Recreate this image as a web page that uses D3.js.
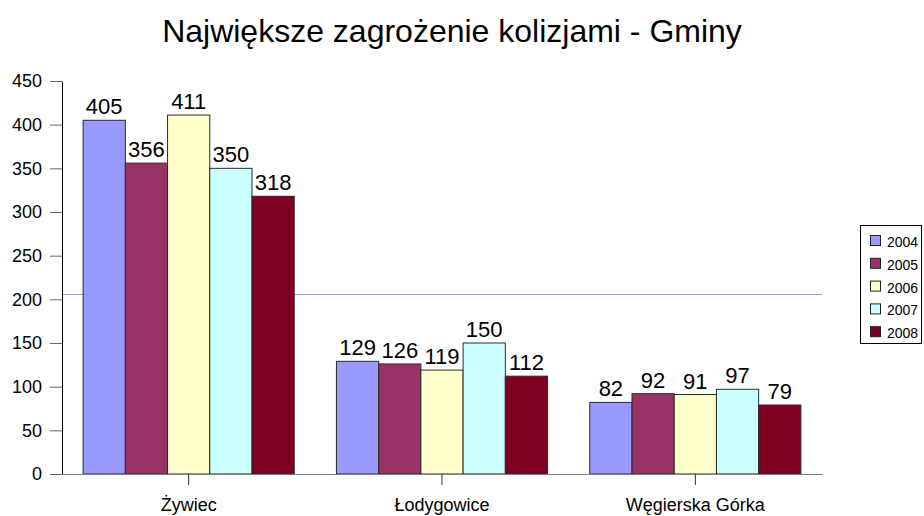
<!DOCTYPE html>
<html>
<head>
<meta charset="utf-8">
<script src="https://d3js.org/d3.v7.min.js"></script>
<style>
    body { margin: 0; background: #fff; }
    text { font-family: Arial, "Liberation Sans", sans-serif; fill: #000; }
</style>
</head>
<body>
<script>
    // chart data
    var gminy = ["Żywiec", "Łodygowice", "Węgierska Górka"];
    var lata = ["2004", "2005", "2006", "2007", "2008"];
    var v2004 = [405, 129, 82];
    var v2005 = [356, 126, 92];
    var v2006 = [411, 119, 91];
    var v2007 = [350, 150, 97];
    var v2008 = [318, 112, 79];
    var yTicks = [0, 50, 100, 150, 200, 250, 300, 350, 400, 450];
    var refLine = 206;
    var kolory = ["#9999FF", "#993366", "#FFFFCC", "#CCFFFF", "#7E0021"];

    var series = [v2004, v2005, v2006, v2007, v2008];

    var svg = d3.select("body").append("svg")
        .attr("width", 924)
        .attr("height", 516);

    var plotLeft = 62, plotRight = 822, plotTop = 81, plotBottom = 474;

    var x0 = d3.scaleBand()
        .domain(gminy)
        .range([plotLeft, plotRight])
        .paddingInner(1 / 6)
        .paddingOuter(1 / 12);

    var x1 = d3.scaleBand()
        .domain(lata)
        .range([0, x0.bandwidth()]);

    var y = d3.scaleLinear()
        .domain([0, 450])
        .range([plotBottom, plotTop]);

    // title
    svg.append("text")
        .attr("x", 452)
        .attr("y", 42)
        .attr("text-anchor", "middle")
        .style("font-size", "32px")
        .text("Największe zagrożenie kolizjami - Gminy");

    // horizontal line (behind bars)
    svg.append("line")
        .attr("x1", plotLeft).attr("x2", plotRight)
        .attr("y1", Math.round(y(refLine)) + 0.5)
        .attr("y2", Math.round(y(refLine)) + 0.5)
        .attr("stroke", "#9999FF")
        .attr("stroke-width", 1);

    // bars
    var groups = svg.append("g").selectAll("g")
        .data(gminy)
        .enter().append("g")
        .attr("transform", function(d) { return "translate(" + x0(d) + ",0)"; });

    groups.selectAll("rect")
        .data(function(d, i) {
            return lata.map(function(rok, j) { return { rok: rok, v: series[j][i], k: j }; });
        })
        .enter().append("rect")
        .attr("x", function(d) { return x1(d.rok); })
        .attr("y", function(d) { return y(d.v); })
        .attr("width", x1.bandwidth())
        .attr("height", function(d) { return plotBottom - y(d.v); })
        .attr("fill", function(d) { return kolory[d.k]; })
        .attr("stroke", "#2a2a2a")
        .attr("stroke-width", 1);

    groups.selectAll("text")
        .data(function(d, i) {
            return lata.map(function(rok, j) { return { rok: rok, v: series[j][i] }; });
        })
        .enter().append("text")
        .attr("x", function(d) { return x1(d.rok) + x1.bandwidth() / 2; })
        .attr("y", function(d) { return y(d.v) - 6; })
        .attr("text-anchor", "middle")
        .style("font-size", "22px")
        .text(function(d) { return d.v; });

    // y axis
    var yAxis = svg.append("g")
        .attr("transform", "translate(" + plotLeft + ",0)")
        .call(d3.axisLeft(y).tickValues(yTicks).tickSize(12).tickPadding(8).tickSizeOuter(0));
    yAxis.select(".domain").attr("stroke", "#000");
    yAxis.selectAll(".tick line").attr("stroke", "#666");
    yAxis.selectAll("text").style("font-size", "18px").attr("fill", "#000");

    // x axis
    var xAxis = svg.append("g")
        .attr("transform", "translate(0," + plotBottom + ")")
        .call(d3.axisBottom(x0).tickSize(11).tickPadding(13).tickSizeOuter(0));
    xAxis.select(".domain").attr("stroke", "#808080");
    xAxis.selectAll(".tick line").attr("stroke", "#333");
    xAxis.selectAll("text").style("font-size", "18px").attr("fill", "#000");

    // legend
    var leg = svg.append("g");
    leg.append("rect")
        .attr("x", 860.5).attr("y", 225.5)
        .attr("width", 61).attr("height", 118)
        .attr("fill", "#fff")
        .attr("stroke", "#000");
    var items = leg.selectAll("g.item")
        .data(lata)
        .enter().append("g")
        .attr("class", "item")
        .attr("transform", function(d, i) { return "translate(870," + (241 + i * 22.8) + ")"; });
    items.append("rect")
        .attr("x", 0.5).attr("y", -5.5)
        .attr("width", 10).attr("height", 10)
        .attr("fill", function(d, i) { return kolory[i]; })
        .attr("stroke", "#222");
    items.append("text")
        .attr("x", 17)
        .attr("y", 6)
        .style("font-size", "14px")
        .text(function(d) { return d; });
</script>
</body>
</html>
